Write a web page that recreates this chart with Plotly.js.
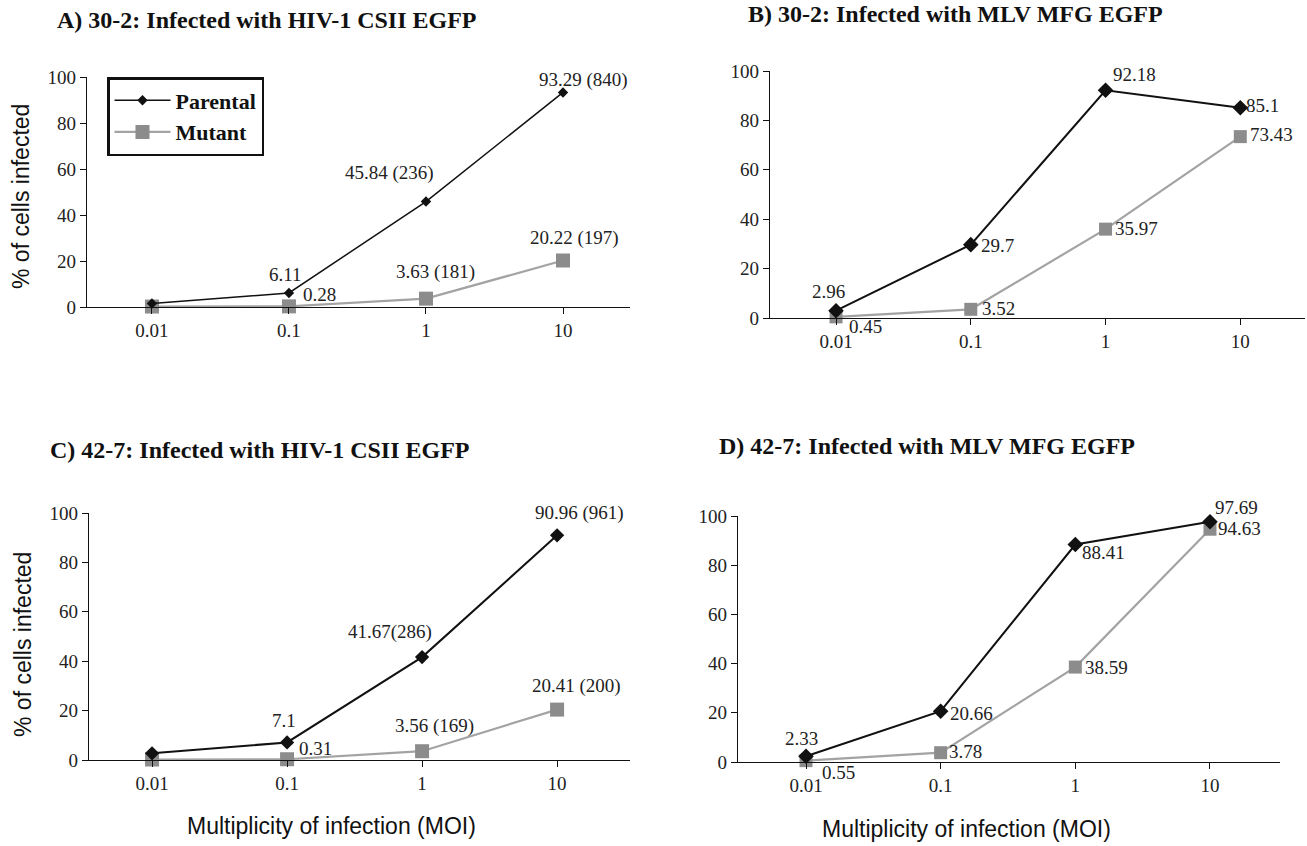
<!DOCTYPE html>
<html><head><meta charset="utf-8">
<script src="https://cdn.plot.ly/plotly-3.0.1.min.js"></script>
<style>html,body{margin:0;padding:0;background:#fff}#chart{width:1307px;height:846px}</style>
</head><body><div id="chart"></div>
<script>
// ---------------- data ----------------
const moi = [0.01, 0.1, 1, 10];
const moiLabels = ['0.01', '0.1', '1', '10'];
const seriesNames = ['Parental', 'Mutant'];
const panelTitles = [
  'A) 30-2: Infected with HIV-1 CSII EGFP',
  'B) 30-2: Infected with MLV MFG EGFP',
  'C) 42-7: Infected with HIV-1 CSII EGFP',
  'D) 42-7: Infected with MLV MFG EGFP'
];
const yTitle = '% of cells infected';
const xTitle = 'Multiplicity of infection (MOI)';

const parentalA = [1.5, 6.11, 45.84, 93.29];
const mutantA   = [0.2, 0.28, 3.63, 20.22];
const parentalLabelsA = ['', '6.11', '45.84 (236)', '93.29 (840)'];
const mutantLabelsA   = ['', '0.28', '3.63 (181)', '20.22 (197)'];

const parentalB = [2.96, 29.7, 92.18, 85.1];
const mutantB   = [0.45, 3.52, 35.97, 73.43];
const parentalLabelsB = ['2.96', '29.7', '92.18', '85.1'];
const mutantLabelsB   = ['0.45', '3.52', '35.97', '73.43'];

const parentalC = [2.7, 7.1, 41.67, 90.96];
const mutantC   = [0.2, 0.31, 3.56, 20.41];
const parentalLabelsC = ['', '7.1', '41.67(286)', '90.96 (961)'];
const mutantLabelsC   = ['', '0.31', '3.56 (169)', '20.41 (200)'];

const parentalD = [2.33, 20.66, 88.41, 97.69];
const mutantD   = [0.55, 3.78, 38.59, 94.63];
const parentalLabelsD = ['2.33', '20.66', '88.41', '97.69'];
const mutantLabelsD   = ['0.55', '3.78', '38.59', '94.63'];

// ---------------- styling / layout ----------------
const serif = '"Liberation Serif", "Times New Roman", serif';
const sans = '"Liberation Sans", Arial, sans-serif';
const W = 1307, H = 846;
// label offsets in pixels [dx, dy] (dy positive = down)
const offP = {
  A: [[0,0],[-3,-18],[-36,-29],[20,-12]],
  B: [[-8,-19],[27,1],[29,-16],[22,-2]],
  C: [[0,0],[-3,-22],[-32,-25],[22,-22]],
  D: [[-5,-18],[31,2],[28,8],[27,-14]]
};
const offM = {
  A: [[0,0],[31,-12],[10,-27],[11,-22]],
  B: [[29,10],[28,-1],[31,-1],[31,-2]],
  C: [[0,0],[28,-11],[12,-25],[19,-24]],
  D: [[32,12],[25,-1],[31,0],[30,-1]]
};
// pixel boxes of each panel's plot area: [left, right, top, bottom]
const boxes = {
  A: [87, 630, 77, 307],
  B: [770, 1305, 71, 318],
  C: [89, 630, 513, 760],
  D: [738, 1280, 516, 762]
};
const xRanges = { A: [-2.474, 1.489], B: [-2.49, 1.48], C: [-2.467, 1.54], D: [-2.505, 1.52] };
const styleP = { A: {size: 8, lw: 1.5}, B: {size: 12, lw: 2}, C: {size: 11, lw: 2}, D: {size: 12, lw: 2} };
const styleM = { A: {size: 14}, B: {size: 13}, C: {size: 14}, D: {size: 13} };

const panels = [
  {k: 'A', p: parentalA, m: mutantA, pl: parentalLabelsA, ml: mutantLabelsA, ax: ''},
  {k: 'B', p: parentalB, m: mutantB, pl: parentalLabelsB, ml: mutantLabelsB, ax: '2'},
  {k: 'C', p: parentalC, m: mutantC, pl: parentalLabelsC, ml: mutantLabelsC, ax: '3'},
  {k: 'D', p: parentalD, m: mutantD, pl: parentalLabelsD, ml: mutantLabelsD, ax: '4'}
];

const traces = [];
const annotations = [];
const layout = {
  width: W, height: H,
  margin: {l: 0, r: 0, t: 0, b: 0},
  paper_bgcolor: '#fff', plot_bgcolor: '#fff',
  showlegend: true,
  legend: {
    x: 107 / W, y: 1 - 77 / H, xanchor: 'left', yanchor: 'top',
    bgcolor: '#fff', bordercolor: '#111', borderwidth: 2.5,
    font: {family: serif, size: 22, color: '#111', weight: 'bold'},
    tracegroupgap: 0, itemwidth: 56
  },
  annotations: annotations
};

panels.forEach((pn, idx) => {
  const b = boxes[pn.k];
  const xa = 'xaxis' + pn.ax, ya = 'yaxis' + pn.ax;
  const xr = 'x' + pn.ax, yr = 'y' + pn.ax;
  layout[xa] = {
    domain: [b[0] / W, b[1] / W], anchor: yr, type: 'log',
    range: xRanges[pn.k], tickvals: moi, ticktext: moiLabels,
    showline: true, linecolor: '#111', linewidth: 1.2,
    ticks: 'outside', ticklen: 6, tickcolor: '#111', tickwidth: 1,
    showgrid: false, zeroline: false,
    tickfont: {family: serif, size: 19, color: '#222'}
  };
  layout[ya] = {
    domain: [1 - b[3] / H, 1 - b[2] / H], anchor: xr,
    range: [0, 100], tickvals: [0, 20, 40, 60, 80, 100],
    showline: true, linecolor: '#111', linewidth: 1.2,
    ticks: 'outside', ticklen: 6, tickcolor: '#111', tickwidth: 1,
    showgrid: false, zeroline: false,
    tickfont: {family: serif, size: 19, color: '#222'}
  };
  traces.push({
    type: 'scatter', mode: 'lines+markers', name: seriesNames[1],
    x: moi, y: pn.m, xaxis: xr, yaxis: yr, cliponaxis: false,
    showlegend: idx === 0, legendrank: 2,
    line: {color: '#a3a3a3', width: 2.2},
    marker: {symbol: 'square', size: styleM[pn.k].size, color: '#8c8c8c'}
  });
  traces.push({
    type: 'scatter', mode: 'lines+markers', name: seriesNames[0],
    x: moi, y: pn.p, xaxis: xr, yaxis: yr, cliponaxis: false,
    showlegend: idx === 0, legendrank: 1,
    line: {color: '#111', width: styleP[pn.k].lw},
    marker: {symbol: 'diamond', size: styleP[pn.k].size, color: '#111'}
  });
  const addLabels = (vals, labels, offs) => {
    vals.forEach((v, i) => {
      if (!labels[i]) return;
      annotations.push({
        x: Math.log10(moi[i]), y: v, xref: xr, yref: yr,
        text: labels[i], showarrow: false,
        xanchor: 'center', yanchor: 'middle',
        xshift: offs[i][0], yshift: -offs[i][1],
        font: {family: serif, size: 19, color: '#222'}
      });
    });
  };
  addLabels(pn.p, pn.pl, offP[pn.k]);
  addLabels(pn.m, pn.ml, offM[pn.k]);
});

// panel titles
const titlePos = [[55, 20], [746, 14], [48, 450], [717, 446]];
panelTitles.forEach((t, i) => {
  annotations.push({
    x: titlePos[i][0] / W, y: 1 - titlePos[i][1] / H, xref: 'paper', yref: 'paper',
    xanchor: 'left', yanchor: 'middle', showarrow: false, text: t,
    font: {family: serif, size: 24, color: '#111', weight: 'bold'}
  });
});
// y axis titles (left panels)
[[21, 197], [23, 645]].forEach(p => {
  annotations.push({
    x: p[0] / W, y: 1 - p[1] / H, xref: 'paper', yref: 'paper',
    xanchor: 'center', yanchor: 'middle', showarrow: false, text: yTitle, textangle: -90,
    font: {family: sans, size: 23, color: '#111'}
  });
});
// x axis titles (bottom panels)
[[331, 826], [967, 829]].forEach(p => {
  annotations.push({
    x: p[0] / W, y: 1 - p[1] / H, xref: 'paper', yref: 'paper',
    xanchor: 'center', yanchor: 'middle', showarrow: false, text: xTitle,
    font: {family: sans, size: 23, color: '#111'}
  });
});

Plotly.newPlot('chart', traces, layout, {displayModeBar: false, staticPlot: true});
</script>
</body></html>
